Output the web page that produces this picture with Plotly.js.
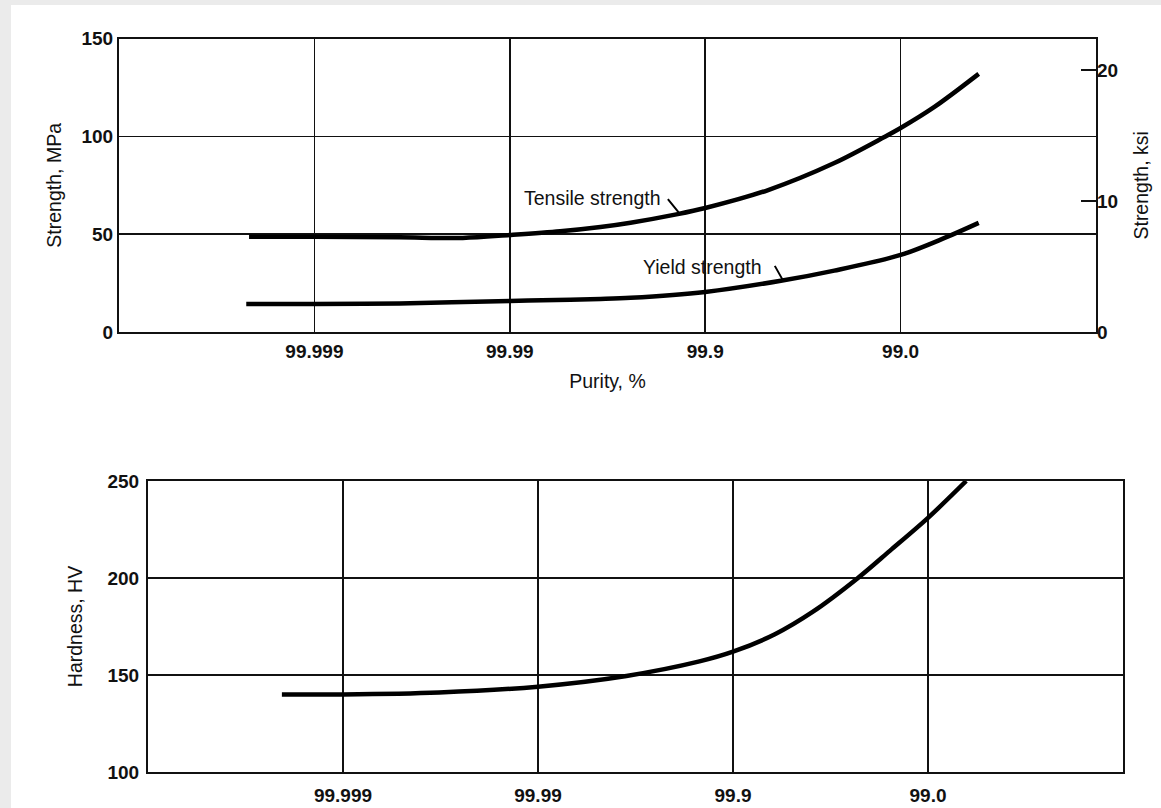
<!DOCTYPE html>
<html>
<head>
<meta charset="utf-8">
<script src="https://cdn.plot.ly/plotly-3.0.1.min.js"></script>
<style>
  html, body { margin: 0; padding: 0; background: #ebebeb; }
  #chart { width: 1161px; height: 808px; }
</style>
</head>
<body>
<div id="chart"></div>
<script>
// ---- Data (x = impurity, % = 100 - purity; log scale) ----
const purityTickText = ['99.999', '99.99', '99.9', '99.0'];
const impurityTickVals = [0.001, 0.01, 0.1, 1];

const tensileImpurity = [0.000463, 0.001, 0.00273, 0.00575, 0.01, 0.0181, 0.0291, 0.0415, 0.0723, 0.1, 0.21, 0.458, 0.826, 1.0, 1.49, 2.51];
const tensileMPa      = [48.7, 48.7, 48.4, 48.1, 49.6, 51.5, 53.7, 55.9, 60.3, 63.4, 72.6, 86.4, 99.7, 104.3, 115.1, 132.0];

const yieldImpurity = [0.000448, 0.001, 0.00273, 0.01, 0.0204, 0.0291, 0.0415, 0.1, 0.244, 0.458, 1.0, 1.68, 2.51];
const yieldMPa      = [14.3, 14.3, 14.6, 15.9, 16.5, 16.9, 17.5, 20.5, 26.2, 31.4, 39.4, 48.1, 55.8];

const hardImpurity = [0.000486, 0.001, 0.00311, 0.01, 0.0284, 0.0673, 0.1, 0.164, 0.256, 0.431, 0.637, 1.0, 1.57];
const hardHV       = [140, 140, 141, 144, 149.5, 157, 162, 171, 182.5, 199.5, 214, 231, 250];

const mpaTicks = [0, 50, 100, 150];
const ksiTicks = [0, 10, 20];
const hvTicks = [100, 150, 200, 250];
const MPA_PER_KSI = 6.895;

// ---- Layout helpers ----
const W = 1161, H = 808;
const px = v => v / W;
const py = v => 1 - v / H;

const tickFont = { family: '"Liberation Sans Narrow", "Liberation Sans", Arial, sans-serif', size: 19, weight: 'bold', color: '#111' };
const titleFont = { family: '"Liberation Sans", Arial, sans-serif', size: 19.5, color: '#111' };
const ink = '#111';

const curveLine = { color: '#000', width: 4.5, shape: 'spline', smoothing: 0.9 };

const traces = [
  { x: tensileImpurity, y: tensileMPa, xaxis: 'x', yaxis: 'y', mode: 'lines', line: curveLine, name: 'Tensile strength' },
  { x: yieldImpurity, y: yieldMPa, xaxis: 'x', yaxis: 'y', mode: 'lines', line: curveLine, name: 'Yield strength' },
  // same tensile curve expressed in ksi, invisible, so the right-hand ksi axis is drawn
  { x: tensileImpurity, y: tensileMPa.map(v => v / MPA_PER_KSI), xaxis: 'x', yaxis: 'y2', mode: 'lines',
    line: { width: 0, color: 'rgba(0,0,0,0)' }, opacity: 0, hoverinfo: 'skip', name: 'Tensile strength (ksi)' },
  { x: hardImpurity, y: hardHV, xaxis: 'x2', yaxis: 'y3', mode: 'lines', line: curveLine, name: 'Hardness' }
];

const xCommon = {
  type: 'log',
  range: [-4, 1],
  tickvals: impurityTickVals,
  ticktext: purityTickText,
  tickfont: tickFont,
  showgrid: true, gridcolor: ink, gridwidth: 1.6,
  showline: true, linecolor: ink, linewidth: 2, mirror: true,
  ticks: 'outside', tickcolor: 'rgba(0,0,0,0)',
  zeroline: false, fixedrange: true
};

const layout = {
  width: W, height: H,
  margin: { l: 0, r: 0, t: 0, b: 0 },
  paper_bgcolor: '#ebebeb',
  plot_bgcolor: '#ffffff',
  showlegend: false,
  font: titleFont,
  xaxis: Object.assign({}, xCommon, {
    domain: [px(119), px(1096)], anchor: 'y', ticklen: 1,
    title: { text: 'Purity, %', font: titleFont, standoff: 14 }
  }),
  yaxis: {
    domain: [py(332), py(38.7)], anchor: 'x',
    range: [0, 150], tickvals: mpaTicks, tickfont: tickFont,
    showgrid: true, gridcolor: ink, gridwidth: 1.6,
    showline: true, linecolor: ink, linewidth: 2, mirror: true,
    ticks: '',
    zeroline: false, fixedrange: true,
    title: { text: 'Strength, MPa', font: titleFont, standoff: 15 }
  },
  yaxis2: {
    overlaying: 'y', side: 'right', anchor: 'x',
    range: [0, 22.4], tickvals: ksiTicks, tickfont: tickFont,
    showgrid: false, showline: false, zeroline: false,
    ticks: 'inside', ticklen: 15, tickwidth: 2.5, tickcolor: ink,
    fixedrange: true,
    title: { text: 'Strength, ksi', font: titleFont, standoff: 17 }
  },
  xaxis2: Object.assign({}, xCommon, {
    domain: [px(148), px(1123)], anchor: 'y3', ticklen: 5
  }),
  yaxis3: {
    domain: [py(772), py(481)], anchor: 'x2',
    range: [100, 250], tickvals: hvTicks, tickfont: tickFont,
    showgrid: true, gridcolor: ink, gridwidth: 1.6,
    showline: true, linecolor: ink, linewidth: 2, mirror: true,
    ticks: 'outside', ticklen: 3, tickcolor: 'rgba(0,0,0,0)',
    zeroline: false, fixedrange: true,
    title: { text: 'Hardness, HV', font: titleFont, standoff: 20 }
  },
  shapes: [
    { type: 'rect', xref: 'paper', yref: 'paper', x0: px(11), x1: 1, y0: 0, y1: py(5),
      fillcolor: '#ffffff', line: { width: 0 }, layer: 'below' }
  ],
  annotations: [
    { xref: 'x', yref: 'y', x: Math.log10(0.0605), y: 68.5, text: 'Tensile strength',
      showarrow: false, xanchor: 'right', yanchor: 'middle', font: titleFont },
    { xref: 'x', yref: 'y', x: Math.log10(0.074), y: 60.5, text: '',
      showarrow: true, arrowhead: 0, arrowwidth: 2, arrowcolor: '#000', ax: -13, ay: -16, standoff: 0 },
    { xref: 'x', yref: 'y', x: Math.log10(0.2), y: 33.4, text: 'Yield strength',
      showarrow: false, xanchor: 'right', yanchor: 'middle', font: titleFont },
    { xref: 'x', yref: 'y', x: Math.log10(0.25), y: 26.4, text: '',
      showarrow: true, arrowhead: 0, arrowwidth: 2, arrowcolor: '#000', ax: -9, ay: -16, standoff: 0 }
  ]
};

Plotly.newPlot('chart', traces, layout, { displayModeBar: false, staticPlot: true });
</script>
</body>
</html>
